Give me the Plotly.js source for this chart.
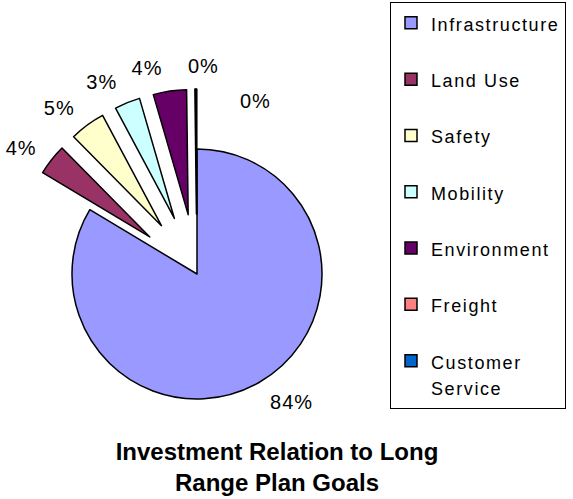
<!DOCTYPE html>
<html>
<head>
<meta charset="utf-8">
<script src="https://cdn.plot.ly/plotly-3.0.1.min.js"></script>
<style>html,body{margin:0;padding:0;background:#fff;}#chart{width:573px;height:499px;}</style>
</head>
<body>
<div id="chart"></div>
<script>
// Data
const categories = ["Infrastructure", "Land Use", "Safety", "Mobility", "Environment", "Freight", "Customer Service"];
const legendLabels = ["Infrastructure", "Land Use", "Safety", "Mobility", "Environment", "Freight", "Customer<br>Service"];
const values = [83.6, 4.0, 4.6, 3.3, 4.3, 0.1, 0.1];
const colors = ["#9999FF", "#993366", "#FFFFCC", "#CCFFFF", "#660066", "#FF8080", "#0066CC"];
const exploded = [0, 1, 1, 1, 1, 1, 1];
const chartTitle = "Investment Relation to Long<br>Range Plan Goals";

const FONT = "Liberation Sans, Arial, sans-serif";
const W = 573, H = 499;
const CX = 197, CY = 274, R = 125, PULL = 60, RL = 137;

const total = values.reduce((a, b) => a + b, 0);
const pct = values.map(v => Math.round(v / total * 100));

const labelsHtml = legendLabels.map(l =>
  '<span style="font-size:18px;letter-spacing:1.6px">' + l + '</span>' + (l.indexOf('<br>') >= 0 ? '' : '<br> '));

// visible pie
const pieTrace = {
  type: "pie",
  labels: labelsHtml,
  values: values,
  sort: false,
  direction: "clockwise",
  rotation: 0,
  pull: exploded.map(p => p * PULL / R),
  marker: { colors: colors, line: { color: "#000000", width: 1.5 } },
  textinfo: "none",
  domain: { x: [(CX - R - PULL) / W, (CX + R + PULL) / W], y: [1 - (CY + R + PULL) / H, 1 - (CY - R - PULL) / H] },
  hoverinfo: "label+percent",
  automargin: false
};

// transparent companion pies carrying the percentage labels slightly farther out
// (neighbouring labels split over two traces so they are not pushed around)
const half = RL + PULL;
function labelTrace(parity) {
  return {
    type: "pie",
    labels: labelsHtml,
    values: values,
    sort: false,
    direction: "clockwise",
    rotation: 0,
    pull: exploded.map(p => p * PULL / RL),
    marker: { colors: colors.map(() => "rgba(0,0,0,0)"), line: { width: 0 } },
    textposition: pct.map((p, i) => (p === 0 || i % 2 !== parity) ? "none" : "outside"),
    texttemplate: '<span style="letter-spacing:1px">%{percent:.0%}</span>',
    outsidetextfont: { family: FONT, size: 20, color: "#000000" },
    domain: { x: [(CX - half) / W, (CX + half) / W], y: [1 - (CY + half) / H, 1 - (CY - half) / H] },
    showlegend: false,
    hoverinfo: "skip",
    automargin: false
  };
}

// labels of the zero-share slices, set beside the top of the pie as in the original
const zeroLabelPos = [[203, 66], [255, 101]];
const zeroIdx = pct.map((p, i) => p === 0 ? i : -1).filter(i => i >= 0);
const annotations = zeroIdx.map((i, k) => ({
  text: '<span style="letter-spacing:1px">' + pct[i] + '%</span>',
  x: zeroLabelPos[k][0] / W, y: 1 - zeroLabelPos[k][1] / H,
  xref: "paper", yref: "paper", xanchor: "center", yanchor: "middle",
  showarrow: false,
  font: { family: FONT, size: 20, color: "#000000" }
}));

const layout = {
  width: W,
  height: H,
  margin: { l: 0, r: 0, t: 0, b: 0 },
  paper_bgcolor: "#ffffff",
  plot_bgcolor: "#ffffff",
  font: { family: FONT, color: "#000000" },
  showlegend: true,
  legend: {
    x: 390 / W, xanchor: "left",
    y: 1 - 2 / H, yanchor: "top",
    bordercolor: "#000000", borderwidth: 1,
    bgcolor: "#ffffff",
    font: { family: FONT, size: 20.5, color: "#000000" },
    valign: "top",
    traceorder: "normal"
  },
  annotations: annotations,
  title: {
    text: chartTitle,
    font: { family: FONT, size: 24, color: "#000000", weight: "bold" },
    x: 277 / W, xanchor: "center", xref: "paper",
    y: 1 - 460 / H, yanchor: "middle", yref: "container"
  }
};

Plotly.newPlot("chart", [pieTrace, labelTrace(0), labelTrace(1)], layout, { displayModeBar: false, staticPlot: true });
</script>
</body>
</html>
